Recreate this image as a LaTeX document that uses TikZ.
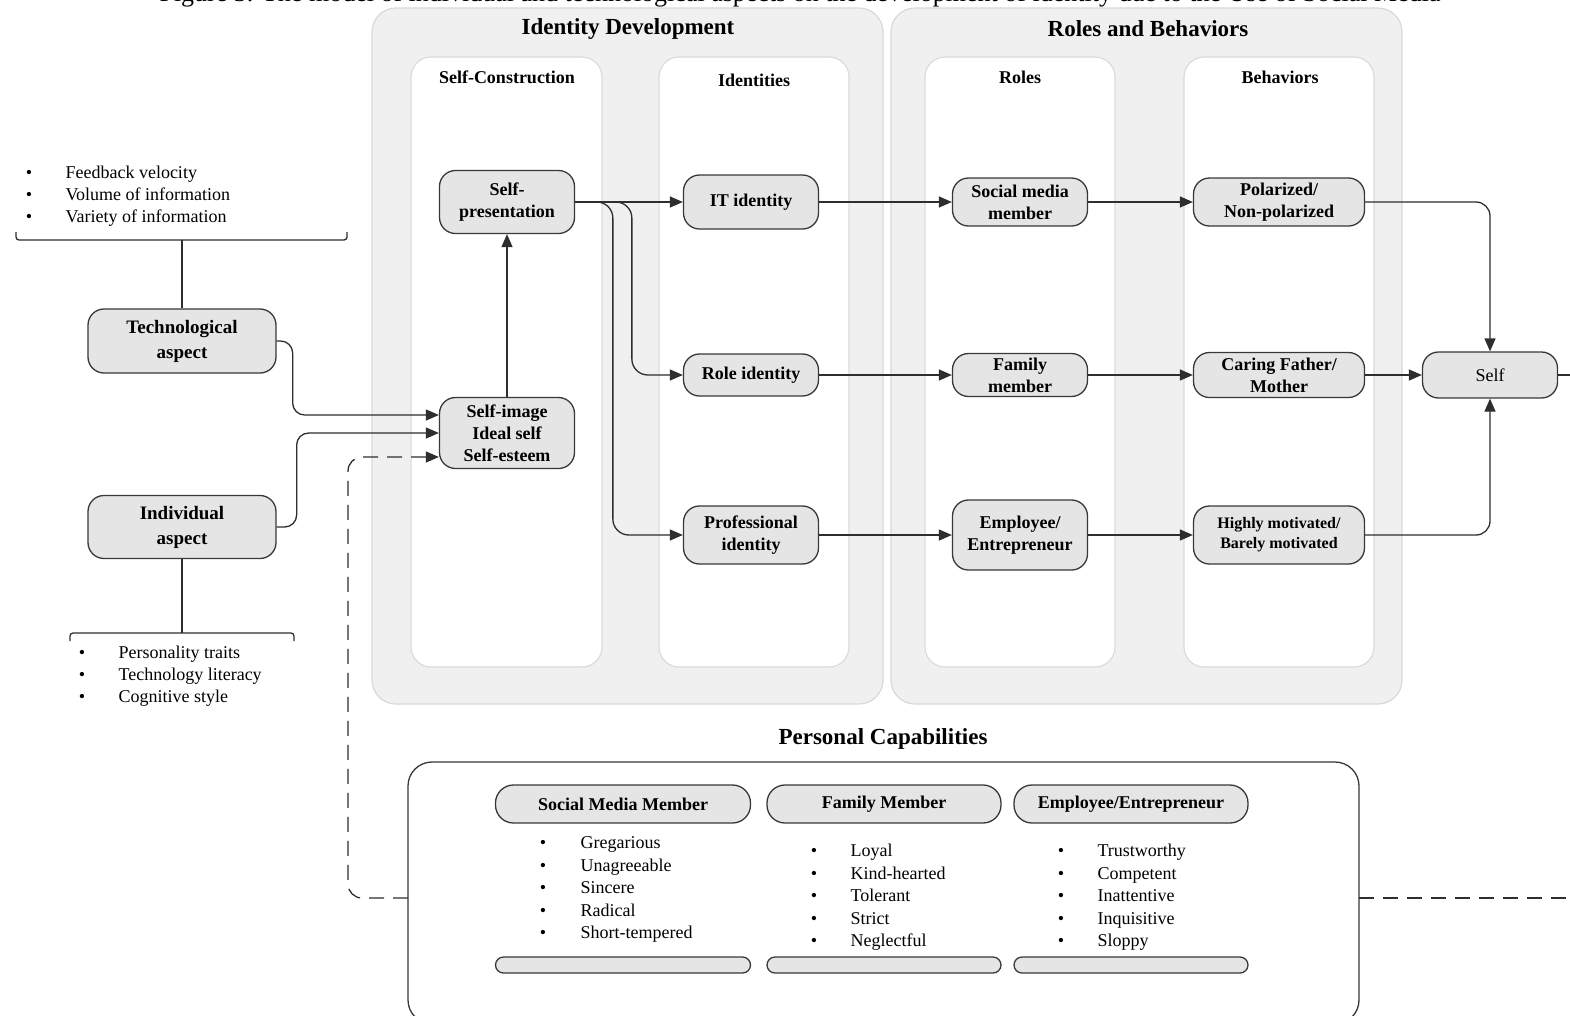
\documentclass[tikz,border=0pt]{standalone}
\usepackage{fontspec}
\setmainfont{Liberation Serif}
\usetikzlibrary{arrows.meta}
\begin{document}
\begin{tikzpicture}[x=1pt,y=-1pt,
  panel/.style={draw=black!15, fill=black!6, line width=1.2pt, rounded corners=24pt},
  lane/.style={draw=black!14, fill=white, line width=1.2pt, rounded corners=20pt},
  title/.style={font=\bfseries\fontsize{23}{27}\selectfont},
  lanetitle/.style={font=\bfseries\fontsize{18}{22}\selectfont},
  box/.style={draw=black!78, fill=black!10, line width=1.3pt, rounded corners=16pt,
    align=center, inner sep=1pt, minimum width=135pt,
    font=\bfseries\fontsize{18}{22}\selectfont},
  conn/.style={draw=black!82, line width=1.3pt, rounded corners=12pt},
  arr/.style={conn, -{Triangle[length=13pt,width=11pt]}},
  dashline/.style={conn, dash pattern=on 15pt off 9pt},
  bul/.style={anchor=base, font=\fontsize{18}{22}\selectfont},
  item/.style={anchor=base west, font=\fontsize{18}{22}\selectfont},
  pill/.style={draw=black!78, fill=black!10, line width=1.3pt, rounded corners=18pt,
    minimum height=38pt, inner sep=0pt, font=\bfseries\fontsize{18}{22}\selectfont},
  bar/.style={draw=black!78, fill=black!10, line width=1.3pt, rounded corners=8pt,
    minimum height=16pt, inner sep=0pt},
]
\useasboundingbox (0,0) rectangle (1570,1015);
\fill[white] (0,0) rectangle (1570,1015);

% caption line, running off the top edge
\node[anchor=base, font=\fontsize{26}{30}\selectfont] (caption) at (800,1)
  {Figure 3. The model of individual and technological aspects on the development of identity due to the Use of Social Media};

% ---------- upper panels ----------
\draw[panel] (372,8) rectangle (883,704);
\draw[panel] (891,8) rectangle (1402,704);
\node[title] (tid) at (628,29) {Identity Development};
\node[title] (trb) at (1148,29) {Roles and Behaviors};

\draw[lane] (411,57) rectangle (602,667);
\draw[lane] (659,57) rectangle (849,667);
\draw[lane] (925,57) rectangle (1115,667);
\draw[lane] (1184,57) rectangle (1374,667);
\node[lanetitle] (lsc) at (507,77) {Self-Construction};
\node[lanetitle] (lid) at (754,80) {Identities};
\node[lanetitle] (lro) at (1020,77) {Roles};
\node[lanetitle] (lbe) at (1280,77) {Behaviors};

% ---------- nodes ----------
\node[box, minimum height=63pt] (spres) at (507,202) {Self-\\presentation};
\node[box, minimum height=71pt] (simg) at (507,433) {Self-image\\Ideal self\\Self-esteem};
\node[box, minimum height=54pt] (itid) at (751,202) {IT identity};
\node[box, minimum height=42pt] (roleid) at (751,375) {Role identity};
\node[box, minimum height=58pt] (profid) at (751,535) {Professional\\identity};
\node[box, minimum height=48pt] (smm) at (1020,202) {Social media\\member};
\node[box, minimum height=43pt] (fam) at (1020,375) {Family\\member};
\node[box, minimum height=70pt] (emp) at (1020,535) {Employee/\\Entrepreneur};
\node[box, minimum width=171pt, minimum height=48pt] (pol) at (1279,202) {Polarized/\\Non-polarized};
\node[box, minimum width=171pt, minimum height=45pt] (care) at (1279,375) {Caring Father/\\Mother};
\node[box, minimum width=171pt, minimum height=58pt,
  font=\bfseries\fontsize{16}{20}\selectfont] (mot) at (1279,535) {Highly motivated/\\Barely motivated};
\node[box, minimum height=46pt, font=\fontsize{18}{22}\selectfont] (self) at (1490,375) {Self};
\node[box, minimum width=188pt, minimum height=64pt,
  font=\bfseries\fontsize{19}{25}\selectfont] (tech) at (182,341) {Technological\\aspect};
\node[box, minimum width=188pt, minimum height=63pt,
  font=\bfseries\fontsize{19}{25}\selectfont] (indiv) at (182,527) {Individual\\aspect};

% ---------- left lists ----------
\draw[conn, rounded corners=3pt] (16,232) -- (16,240) -- (347,240) -- (347,232);
\draw[conn, rounded corners=0pt] (tech.north) -- (182,240);
\foreach \t [count=\i] in {Feedback velocity, Volume of information, Variety of information}{
  \node[bul] (tb\i) at (29,{156+22*\i}) {\textbullet};
  \node[item] (ti\i) at (62,{156+22*\i}) {\t};
}
\draw[conn, rounded corners=3pt] (70,641) -- (70,633) -- (294,633) -- (294,641);
\draw[conn, rounded corners=0pt] (indiv.south) -- (182,633);
\foreach \t [count=\i] in {Personality traits, Technology literacy, Cognitive style}{
  \node[bul] (ib\i) at (82,{636+22*\i}) {\textbullet};
  \node[item] (ii\i) at (115,{636+22*\i}) {\t};
}

% ---------- connectors ----------
\draw[arr] (tech.east) -- ++(16,0) |- ([yshift=18pt]simg.west);
\draw[arr] (indiv.east) -- ++(20,0) |- (simg.west);
\draw[arr, rounded corners=0pt] (simg.north) -- (spres.south);
\draw[arr] (spres.east) -- (itid.west);
\draw[arr, rounded corners=16pt] (spres.east) -| ([xshift=-51pt]roleid.west) -- (roleid.west);
\draw[arr, rounded corners=16pt] (spres.east) -| ([xshift=-70pt]profid.west) -- (profid.west);
\draw[arr] (itid) -- (smm);
\draw[arr] (roleid) -- (fam);
\draw[arr] (profid) -- (emp);
\draw[arr] (smm) -- (pol);
\draw[arr] (fam) -- (care);
\draw[arr] (emp) -- (mot);
\draw[arr] (care) -- (self);
\draw[arr, rounded corners=14pt] (pol.east) -| (self.north);
\draw[arr, rounded corners=14pt] (mot.east) -| (self.south);
\coordinate (selfout) at (1570,375);
\draw[conn] (self.east) -- (selfout);

% ---------- personal capabilities ----------
\node[title] (tpc) at (883,739) {Personal Capabilities};
\draw[draw=black!78, fill=white, line width=1.3pt, rounded corners=24pt] (408,762) rectangle (1359,1024);

\node[pill, minimum width=255pt] (hsm) at (623,804) {Social Media Member};
\node[pill, minimum width=234pt] (hfm) at (884,804) {Family Member};
\node[pill, minimum width=234pt] (hee) at (1131,804) {Employee/Entrepreneur};
\node[bar, minimum width=255pt] (bsm) at (623,965) {};
\node[bar, minimum width=234pt] (bfm) at (884,965) {};
\node[bar, minimum width=234pt] (bee) at (1131,965) {};

\foreach \t [count=\i] in {Gregarious, Unagreeable, Sincere, Radical, Short-tempered}{
  \node[bul] (sb\i) at (543,{826+22.5*\i}) {\textbullet};
  \node[item] (si\i) at (577,{826+22.5*\i}) {\t};
}
\foreach \t [count=\i] in {Loyal, Kind-hearted, Tolerant, Strict, Neglectful}{
  \node[bul] (fb\i) at (814,{834+22.5*\i}) {\textbullet};
  \node[item] (fi\i) at (847,{834+22.5*\i}) {\t};
}
\foreach \t [count=\i] in {Trustworthy, Competent, Inattentive, Inquisitive, Sloppy}{
  \node[bul] (eb\i) at (1061,{834+22.5*\i}) {\textbullet};
  \node[item] (ei\i) at (1094,{834+22.5*\i}) {\t};
}

% ---------- dashed feedback loop ----------
\coordinate (pcleft) at (408,898);
\coordinate (pcright) at (1359,898);
\coordinate (loopout) at (1570,898);
\draw[arr, dashline, rounded corners=14pt] (pcleft) -| (348,457) -- ([yshift=-24pt]simg.west);
\draw[dashline] (pcright) -- (loopout);
\end{tikzpicture}
\end{document}
